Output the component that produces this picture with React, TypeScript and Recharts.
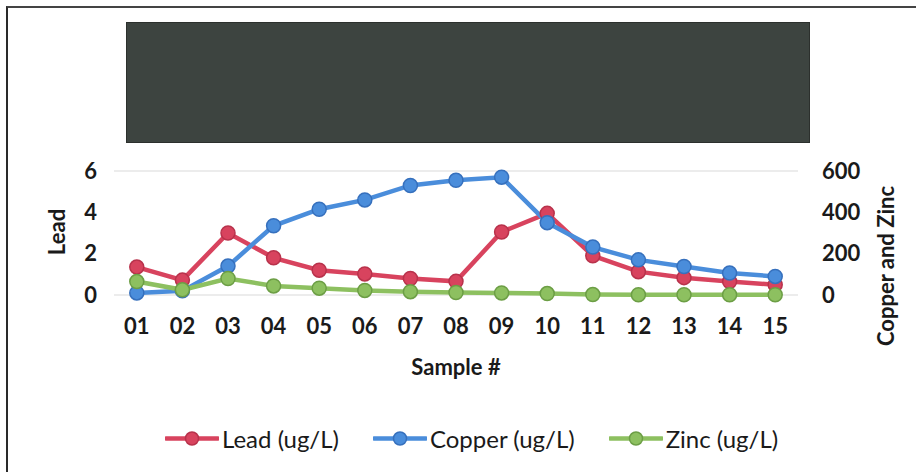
import React from 'react';
import { LineChart, Line, XAxis, YAxis, CartesianGrid } from 'recharts';

const samples = ['01', '02', '03', '04', '05', '06', '07', '08', '09', '10', '11', '12', '13', '14', '15'];
const lead = [1.35, 0.72, 3.0, 1.8, 1.2, 1.02, 0.8, 0.66, 3.05, 3.95, 1.9, 1.13, 0.84, 0.65, 0.5];
const copper = [10, 20, 140, 335, 415, 460, 530, 555, 570, 350, 232, 170, 138, 106, 90];
const zinc = [65, 25, 80, 44, 33, 22, 16, 12, 10, 7, 2, 1, 1, 1, 1];
const leadTicks = [0, 2, 4, 6];
const metalTicks = [0, 200, 400, 600];

const series = [
  { key: 'lead', name: 'Lead (ug/L)', color: '#d8435e', edge: '#b8324b', axis: 'left' },
  { key: 'copper', name: 'Copper (ug/L)', color: '#4a8ddb', edge: '#3670bd', axis: 'right' },
  { key: 'zinc', name: 'Zinc (ug/L)', color: '#8dc060', edge: '#6c9e45', axis: 'right' },
];

const data = samples.map((s, i) => ({ sample: s, lead: lead[i], copper: copper[i], zinc: zinc[i] }));

const FONT = 'Lato, "Open Sans", sans-serif';
const tickStyle = { fontFamily: FONT, fontSize: 22, fontWeight: 700, fill: '#1a1a1a' };

const title: React.CSSProperties = {
  position: 'absolute',
  fontFamily: FONT,
  fontSize: 22,
  fontWeight: 700,
  color: '#1a1a1a',
  whiteSpace: 'nowrap',
  lineHeight: 1,
};

export default function App() {
  return (
    <div style={{ position: 'absolute', left: 0, top: 0, width: 916, height: 472, background: '#fff', overflow: 'hidden' }}>
      {/* frame of the scanned page */}
      <div style={{ position: 'absolute', left: 6, top: 6, width: 920, height: 480, borderLeft: '2px solid #2a2a2a', borderTop: '2px solid #444' }} />
      {/* blacked-out header */}
      <div style={{ position: 'absolute', left: 126, top: 22, width: 684, height: 121, background: '#3d4440', border: '1px solid #2c302d', boxSizing: 'border-box' }} />

      <div style={{ position: 'absolute', left: 0, top: 0 }}>
        <LineChart width={916} height={472} data={data} margin={{ top: 171, right: 28, bottom: 117, left: 34 }}>
          <CartesianGrid vertical={false} stroke="#d9d9d9" strokeWidth={1.2} />
          <XAxis
            dataKey="sample"
            height={60}
            axisLine={false}
            tickLine={false}
            tickSize={0}
            tickMargin={23}
            tick={tickStyle}
            interval={0}
            padding={{ left: 22.8, right: 22.8 }}
          />
          <YAxis
            yAxisId="left"
            width={80}
            domain={[0, 6]}
            ticks={leadTicks}
            axisLine={false}
            tickLine={false}
            tickSize={0}
            tickMargin={17}
            tick={tickStyle}
          />
          <YAxis
            yAxisId="right"
            orientation="right"
            width={90}
            domain={[0, 600]}
            ticks={metalTicks}
            axisLine={false}
            tickLine={false}
            tickSize={0}
            tickMargin={24}
            tick={{ ...tickStyle, textAnchor: 'start' }}
          />
          {series.map((s) => (
            <Line
              key={s.key}
              yAxisId={s.axis}
              dataKey={s.key}
              name={s.name}
              stroke={s.color}
              strokeWidth={4.5}
              dot={{ r: 7, fill: s.color, stroke: s.edge, strokeWidth: 1.5 }}
              activeDot={false}
              isAnimationActive={false}
            />
          ))}
        </LineChart>
      </div>

      <div style={{ ...title, left: 57, top: 232, transform: 'translate(-50%, -50%) rotate(-90deg)' }}>Lead</div>
      <div style={{ ...title, left: 886, top: 266, transform: 'translate(-50%, -50%) rotate(-90deg)' }}>Copper and Zinc</div>
      <div style={{ ...title, left: 456, top: 367, transform: 'translate(-50%, -50%)' }}>Sample #</div>

      <div style={{ position: 'absolute', left: 165, top: 438, transform: 'translateY(-50%)', display: 'flex', alignItems: 'center' }}>
        {series.map((s, i) => (
          <div key={s.key} style={{ display: 'flex', alignItems: 'center', marginLeft: i === 0 ? 0 : 34 }}>
            <svg width={54} height={16}>
              <line x1={1} y1={8} x2={53} y2={8} stroke={s.color} strokeWidth={4.5} strokeLinecap="round" />
              <circle cx={27} cy={8} r={6.5} fill={s.color} stroke={s.edge} strokeWidth={1.5} />
            </svg>
            <span style={{ fontFamily: FONT, fontSize: 24, color: '#1a1a1a', marginLeft: 3, whiteSpace: 'nowrap' }}>{s.name}</span>
          </div>
        ))}
      </div>
    </div>
  );
}
